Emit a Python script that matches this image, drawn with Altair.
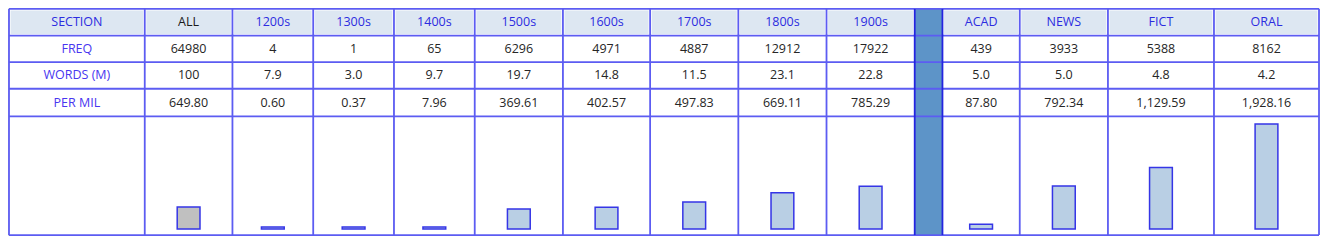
import altair as alt
import pandas as pd

# ---------------- data ----------------
header_label = "SECTION"
row_labels = ["FREQ", "WORDS (M)", "PER MIL"]
columns = ["ALL", "1200s", "1300s", "1400s", "1500s", "1600s", "1700s",
           "1800s", "1900s", "", "ACAD", "NEWS", "FICT", "ORAL"]
freq = [64980, 4, 1, 65, 6296, 4971, 4887, 12912, 17922, None, 439, 3933, 5388, 8162]
words_m = [100, 7.9, 3.0, 9.7, 19.7, 14.8, 11.5, 23.1, 22.8, None, 5.0, 5.0, 4.8, 4.2]
per_mil = [649.80, 0.60, 0.37, 7.96, 369.61, 402.57, 497.83, 669.11, 785.29, None,
           87.80, 792.34, 1129.59, 1928.16]
# the ALL bar is drawn shorter than its per-mil value; height
all_bar_value = 405

# ---------------- layout (reference pixel units) ----------------
col_edges = [3, 140, 228.5, 310, 391.5, 473, 562, 650, 739, 828, 917, 945, 1023, 1112, 1219, 1325]
row_edges = [3, 31, 59, 87, 116, 241]
spacer_index = 10          # index in col_edges segments (0 = label column)
bar_half_width = 11.5
bar_base = 234.7
px_per_unit = 0.0573
min_bar_value = 40

W, H = 1312, 228
X_DOM = [2, 1326]
Y_DOM = [2, 242]
FONT = "Open Sans"

def py(ref):
    return (ref - Y_DOM[0]) * H / (Y_DOM[1] - Y_DOM[0])

xs = alt.Scale(domain=X_DOM)
ys = alt.Scale(domain=Y_DOM, reverse=True)

n_seg = len(col_edges) - 1
centers = [(col_edges[i] + col_edges[i + 1]) / 2 for i in range(n_seg)]

# header background cells
hdr = pd.DataFrame([
    {"x0": col_edges[i] + 1.6, "x1": col_edges[i + 1] - 1.6,
     "y0": row_edges[0] + 1.6, "y1": row_edges[1] - 1.6}
    for i in range(n_seg) if i != spacer_index
])
header_bg = alt.Chart(hdr).mark_rect(color="#dde7f2").encode(
    x=alt.X("x0:Q", scale=xs, axis=None), x2="x1:Q",
    y=alt.Y("y0:Q", scale=ys, axis=None), y2="y1:Q")

spacer_df = pd.DataFrame([{"x0": col_edges[spacer_index], "x1": col_edges[spacer_index + 1],
                           "y0": row_edges[0], "y1": row_edges[-1]}])
spacer = alt.Chart(spacer_df).mark_rect(color="#5d94c8").encode(
    x=alt.X("x0:Q", scale=xs, axis=None), x2="x1:Q",
    y=alt.Y("y0:Q", scale=ys, axis=None), y2="y1:Q")

# grid lines
vl = pd.DataFrame([{"x": e, "y0": row_edges[0], "y1": row_edges[-1],
                    "c": "dark" if i in (spacer_index, spacer_index + 1) else "grid"}
                   for i, e in enumerate(col_edges)])
hl = pd.DataFrame([{"y": e, "x0": col_edges[0], "x1": col_edges[-1]} for e in row_edges])
line_color = alt.Scale(domain=["grid", "dark"], range=["#5c5cf2", "#2424e0"])
vlines = alt.Chart(vl).mark_rule(strokeWidth=1.8).encode(
    x=alt.X("x:Q", scale=xs, axis=None),
    y=alt.Y("y0:Q", scale=ys, axis=None), y2="y1:Q",
    color=alt.Color("c:N", scale=line_color, legend=None))
hlines = alt.Chart(hl).mark_rule(strokeWidth=1.8, color="#5c5cf2").encode(
    y=alt.Y("y:Q", scale=ys, axis=None),
    x=alt.X("x0:Q", scale=xs, axis=None), x2="x1:Q")

# texts
def fmt_words(v):
    return f"{v:.0f}" if v >= 100 else f"{v:.1f}"

recs = []
row_c = [(row_edges[i] + row_edges[i + 1]) / 2 for i in range(len(row_edges) - 1)]
recs.append({"x": centers[0], "y": row_c[0], "t": header_label, "k": "hdr"})
for r, lab in enumerate(row_labels):
    recs.append({"x": centers[0], "y": row_c[r + 1], "t": lab, "k": "row"})
for j, name in enumerate(columns):
    seg = j + 1
    if seg == spacer_index:
        continue
    recs.append({"x": centers[seg], "y": row_c[0], "t": name, "k": "all" if name == "ALL" else "hdr"})
    recs.append({"x": centers[seg], "y": row_c[1], "t": f"{freq[j]}", "k": "val"})
    recs.append({"x": centers[seg], "y": row_c[2], "t": fmt_words(words_m[j]), "k": "val"})
    recs.append({"x": centers[seg], "y": row_c[3], "t": f"{per_mil[j]:,.2f}", "k": "val"})
tdf = pd.DataFrame(recs)
text_color = alt.Scale(domain=["hdr", "row", "all", "val"],
                       range=["#2c2ce0", "#4836f0", "#1a1a1a", "#262626"])
texts = alt.Chart(tdf).mark_text(font=FONT, fontSize=12.5, baseline="middle", align="center").encode(
    x=alt.X("x:Q", scale=xs, axis=None),
    y=alt.Y("y:Q", scale=ys, axis=None),
    text="t:N",
    color=alt.Color("k:N", scale=text_color, legend=None))

# bars
brecs = []
for j, name in enumerate(columns):
    seg = j + 1
    if seg == spacer_index:
        continue
    v = all_bar_value if name == "ALL" else per_mil[j]
    brecs.append({"x0": centers[seg] - bar_half_width, "x1": centers[seg] + bar_half_width,
                  "v": v, "z": 0, "k": "all" if name == "ALL" else "sec"})
bdf = pd.DataFrame(brecs)
vmax = 2000
bar_scale = alt.Scale(domain=[0, vmax],
                      range=[py(bar_base), py(bar_base - px_per_unit * vmax)])
bars = alt.Chart(bdf).transform_calculate(
    h=f"max(datum.v, {min_bar_value})"
).mark_rect(stroke="#3535e6", strokeWidth=1.5).encode(
    x=alt.X("x0:Q", scale=xs, axis=None), x2="x1:Q",
    y=alt.Y("h:Q", scale=bar_scale, axis=None), y2="z:Q",
    fill=alt.Fill("k:N", scale=alt.Scale(domain=["all", "sec"], range=["#c0c0c0", "#b9cfe4"]),
                  legend=None))

chart = alt.layer(header_bg, spacer, hlines, vlines, texts, bars).resolve_scale(
    y="independent", color="independent"
).properties(width=W, height=H, padding=0, autosize=alt.AutoSizeParams(type="none")
).configure_view(stroke=None).configure(background="white")

chart.save("out.html", embed_options={"renderer": "svg", "actions": False})
